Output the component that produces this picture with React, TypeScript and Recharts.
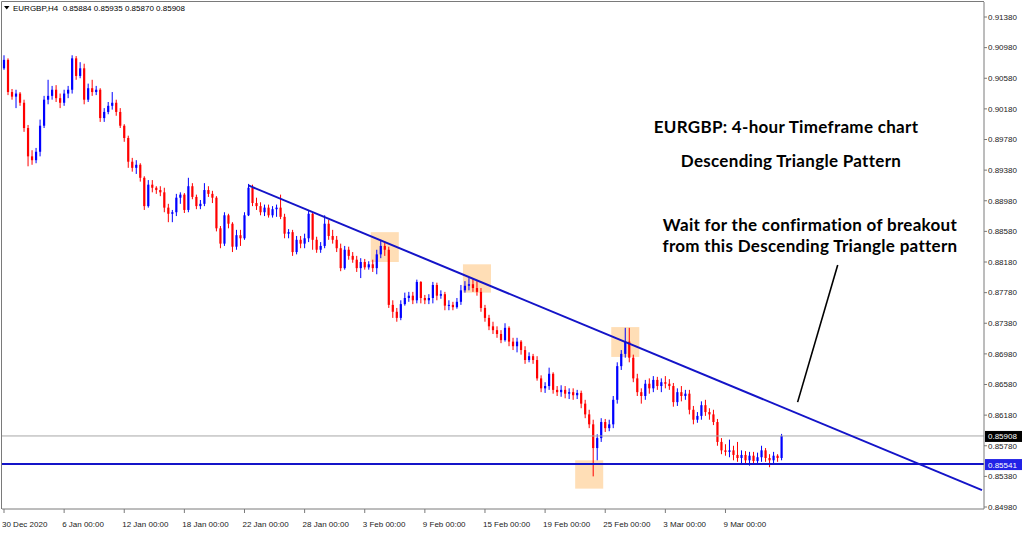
import React from "react";
import { ComposedChart, Bar, XAxis, YAxis, ReferenceLine, ReferenceArea } from "recharts";

// EURGBP H4, 30 Dec 2020 -> 10 Mar 2021 (one candle per 4px slot)
const opens = [
  0.9071, 0.9082, 0.904, 0.9034, 0.9038, 0.9026, 0.8993, 0.8956, 0.8951, 0.8962,
  0.8996, 0.903, 0.9035, 0.9043, 0.9032, 0.9026, 0.9038, 0.9043, 0.9084, 0.9061,
  0.9071, 0.903, 0.9045, 0.904, 0.9043, 0.9006, 0.9014, 0.9022, 0.9026, 0.9014,
  0.8996, 0.898, 0.8949, 0.8941, 0.8945, 0.8928, 0.8891, 0.8919, 0.8915, 0.8912,
  0.8909, 0.8889, 0.8881, 0.8883, 0.8902, 0.8906, 0.8886, 0.8917, 0.8903, 0.8891,
  0.8894, 0.8912, 0.8907, 0.8902, 0.8862, 0.8842, 0.8879, 0.8868, 0.8838, 0.8853,
  0.8849, 0.8879, 0.8915, 0.8895, 0.8891, 0.8883, 0.8889, 0.8879, 0.8887, 0.8889,
  0.8877, 0.8855, 0.8857, 0.8831, 0.8847, 0.8842, 0.8849, 0.8881, 0.8847, 0.8834,
  0.8839, 0.8868, 0.8852, 0.8847, 0.8836, 0.881, 0.8834, 0.8826, 0.8821, 0.881,
  0.8818, 0.8811, 0.8815, 0.881, 0.8828, 0.8839, 0.8834, 0.8762, 0.8753, 0.8745,
  0.8763, 0.8771, 0.8774, 0.8768, 0.8792, 0.8771, 0.8768, 0.8771, 0.8788, 0.8774,
  0.8776, 0.8761, 0.8762, 0.8759, 0.8766, 0.8781, 0.8787, 0.8789, 0.8784, 0.8779,
  0.8758, 0.8745, 0.8734, 0.8729, 0.8724, 0.8716, 0.8732, 0.8714, 0.8708, 0.8714,
  0.8703, 0.869, 0.8695, 0.869, 0.8666, 0.8653, 0.8656, 0.8672, 0.8651, 0.8648,
  0.8651, 0.8646, 0.8648, 0.8644, 0.8647, 0.8633, 0.8619, 0.8606, 0.8575, 0.8588,
  0.8609, 0.8601, 0.8606, 0.8638, 0.8682, 0.8698, 0.8714, 0.8693, 0.8666, 0.8648,
  0.8643, 0.8659, 0.8653, 0.8664, 0.8656, 0.8661, 0.8659, 0.8656, 0.8635, 0.8648,
  0.8643, 0.8646, 0.8625, 0.8612, 0.8617, 0.8631, 0.8622, 0.8619, 0.8609, 0.8583,
  0.8572, 0.857, 0.8572, 0.8566, 0.8562, 0.8566, 0.8559, 0.8565, 0.8558, 0.8563,
  0.8572, 0.8562, 0.8559, 0.8565, 0.8562,
];

const highs = [
  0.9088, 0.9084, 0.9044, 0.9043, 0.904, 0.903, 0.8997, 0.8964, 0.8967, 0.9004,
  0.9035, 0.9056, 0.9048, 0.9049, 0.9038, 0.9043, 0.9048, 0.9088, 0.9087, 0.9079,
  0.9077, 0.9051, 0.9056, 0.9048, 0.9045, 0.9019, 0.9027, 0.904, 0.903, 0.9019,
  0.8998, 0.8983, 0.8954, 0.8951, 0.8947, 0.893, 0.8925, 0.8925, 0.8917, 0.8917,
  0.8915, 0.8894, 0.8886, 0.8907, 0.8909, 0.8908, 0.8928, 0.8921, 0.8906, 0.8899,
  0.8921, 0.8917, 0.8911, 0.8904, 0.8865, 0.8883, 0.8881, 0.887, 0.886, 0.886,
  0.8883, 0.892, 0.8919, 0.8902, 0.8896, 0.8893, 0.8893, 0.8891, 0.8893, 0.8906,
  0.8881, 0.8861, 0.886, 0.8852, 0.8852, 0.8855, 0.8885, 0.8883, 0.8851, 0.8844,
  0.8879, 0.8873, 0.886, 0.8852, 0.8842, 0.8839, 0.8838, 0.8831, 0.8826, 0.8823,
  0.8822, 0.8819, 0.8821, 0.8834, 0.8847, 0.8845, 0.8838, 0.8768, 0.8758, 0.8768,
  0.8778, 0.8779, 0.8779, 0.8795, 0.8793, 0.8775, 0.8776, 0.8792, 0.8791, 0.8781,
  0.8779, 0.8768, 0.8766, 0.8771, 0.8788, 0.8793, 0.8797, 0.8796, 0.8793, 0.8784,
  0.8762, 0.8749, 0.874, 0.8734, 0.8729, 0.8738, 0.8734, 0.8719, 0.8719, 0.8716,
  0.8708, 0.87, 0.8698, 0.8695, 0.867, 0.8661, 0.868, 0.8674, 0.8656, 0.8657,
  0.8656, 0.8653, 0.8653, 0.8651, 0.865, 0.8638, 0.8625, 0.8612, 0.8593, 0.8614,
  0.8613, 0.8612, 0.8643, 0.8687, 0.8703, 0.8732, 0.8732, 0.8697, 0.8672, 0.8653,
  0.8664, 0.8666, 0.8669, 0.8668, 0.8666, 0.8669, 0.8665, 0.866, 0.8653, 0.8656,
  0.8651, 0.8651, 0.863, 0.8622, 0.8636, 0.8638, 0.8627, 0.8625, 0.8613, 0.8588,
  0.858, 0.8586, 0.8578, 0.8583, 0.8572, 0.8571, 0.857, 0.857, 0.8569, 0.8578,
  0.8575, 0.8567, 0.857, 0.8567, 0.85935,
];

const lows = [
  0.9069, 0.9036, 0.903, 0.9019, 0.9022, 0.8988, 0.8943, 0.8945, 0.8947, 0.8956,
  0.8993, 0.9024, 0.903, 0.9027, 0.9019, 0.9022, 0.9032, 0.9038, 0.9056, 0.9058,
  0.9024, 0.9027, 0.9035, 0.9036, 0.9001, 0.9001, 0.9011, 0.9017, 0.9009, 0.8993,
  0.8975, 0.8941, 0.8936, 0.8933, 0.8923, 0.8886, 0.8889, 0.8909, 0.8907, 0.8904,
  0.8883, 0.887, 0.887, 0.8878, 0.8894, 0.8882, 0.8883, 0.89, 0.8887, 0.8887,
  0.8891, 0.8903, 0.8895, 0.8858, 0.8836, 0.8839, 0.8862, 0.8831, 0.8834, 0.8839,
  0.8847, 0.8878, 0.8891, 0.8886, 0.8879, 0.8878, 0.8876, 0.8876, 0.8877, 0.8874,
  0.8849, 0.8849, 0.8826, 0.8828, 0.8836, 0.8836, 0.8844, 0.8834, 0.883, 0.883,
  0.8836, 0.8847, 0.8842, 0.8831, 0.8806, 0.8808, 0.8821, 0.8817, 0.8805, 0.8797,
  0.8808, 0.8808, 0.8805, 0.8802, 0.8823, 0.8826, 0.8758, 0.8745, 0.874, 0.8742,
  0.8761, 0.8766, 0.8763, 0.8764, 0.8764, 0.8763, 0.8763, 0.8764, 0.8768, 0.877,
  0.8755, 0.8755, 0.8755, 0.8757, 0.8762, 0.8778, 0.8781, 0.8779, 0.8774, 0.8753,
  0.874, 0.8729, 0.8724, 0.8719, 0.8712, 0.8714, 0.8708, 0.8703, 0.87, 0.8697,
  0.8685, 0.8687, 0.8685, 0.8663, 0.8648, 0.8647, 0.8651, 0.8646, 0.8643, 0.8642,
  0.864, 0.8639, 0.8638, 0.8639, 0.8627, 0.8614, 0.8601, 0.8538, 0.8559, 0.8583,
  0.8596, 0.8597, 0.8601, 0.8633, 0.8677, 0.8693, 0.8687, 0.8661, 0.8643, 0.8633,
  0.8638, 0.8646, 0.8648, 0.8651, 0.8648, 0.8653, 0.8651, 0.8629, 0.863, 0.8636,
  0.8638, 0.8619, 0.8606, 0.8608, 0.8612, 0.8617, 0.8612, 0.8605, 0.8578, 0.8567,
  0.8565, 0.8563, 0.8559, 0.8557, 0.8553, 0.8554, 0.8552, 0.8553, 0.8554, 0.8557,
  0.8557, 0.855, 0.8555, 0.8557, 0.8559,
];

const closes = [
  0.9082, 0.904, 0.9034, 0.9038, 0.9026, 0.8993, 0.8956, 0.8951, 0.8962, 0.8996,
  0.903, 0.9035, 0.9043, 0.9032, 0.9026, 0.9038, 0.9043, 0.9084, 0.9061, 0.9071,
  0.903, 0.9045, 0.904, 0.9043, 0.9006, 0.9014, 0.9022, 0.9026, 0.9014, 0.8996,
  0.898, 0.8949, 0.8941, 0.8945, 0.8928, 0.8891, 0.8919, 0.8915, 0.8912, 0.8909,
  0.8889, 0.8881, 0.8883, 0.8902, 0.8906, 0.8886, 0.8917, 0.8903, 0.8891, 0.8894,
  0.8912, 0.8907, 0.8902, 0.8862, 0.8842, 0.8879, 0.8868, 0.8838, 0.8853, 0.8849,
  0.8879, 0.8915, 0.8895, 0.8891, 0.8883, 0.8889, 0.8879, 0.8887, 0.8889, 0.8877,
  0.8855, 0.8857, 0.8831, 0.8847, 0.8842, 0.8849, 0.8881, 0.8847, 0.8834, 0.8839,
  0.8868, 0.8852, 0.8847, 0.8836, 0.881, 0.8834, 0.8826, 0.8821, 0.881, 0.8818,
  0.8811, 0.8815, 0.881, 0.8828, 0.8839, 0.8834, 0.8762, 0.8753, 0.8745, 0.8763,
  0.8771, 0.8774, 0.8768, 0.8792, 0.8771, 0.8768, 0.8771, 0.8788, 0.8774, 0.8776,
  0.8761, 0.8762, 0.8759, 0.8766, 0.8781, 0.8787, 0.8789, 0.8784, 0.8779, 0.8758,
  0.8745, 0.8734, 0.8729, 0.8724, 0.8716, 0.8732, 0.8714, 0.8708, 0.8714, 0.8703,
  0.869, 0.8695, 0.869, 0.8666, 0.8653, 0.8656, 0.8672, 0.8651, 0.8648, 0.8651,
  0.8646, 0.8648, 0.8644, 0.8647, 0.8633, 0.8619, 0.8606, 0.8575, 0.8588, 0.8609,
  0.8601, 0.8606, 0.8638, 0.8682, 0.8698, 0.8714, 0.8693, 0.8666, 0.8648, 0.8643,
  0.8659, 0.8653, 0.8664, 0.8656, 0.8661, 0.8659, 0.8656, 0.8635, 0.8648, 0.8643,
  0.8646, 0.8625, 0.8612, 0.8617, 0.8631, 0.8622, 0.8619, 0.8609, 0.8583, 0.8572,
  0.857, 0.8572, 0.8566, 0.8562, 0.8566, 0.8559, 0.8565, 0.8558, 0.8563, 0.8572,
  0.8562, 0.8559, 0.8565, 0.8562, 0.85908,
];

// empty slots on the right of the last candle (MT4 chart shift)
const slotCount = 245;

const dateTicks = [0, 15, 30, 45, 60, 75, 90, 105, 120, 135, 150, 165, 180];
const dateLabels = [
  "30 Dec 2020", "6 Jan 00:00", "12 Jan 00:00", "18 Jan 00:00", "22 Jan 00:00",
  "28 Jan 00:00", "3 Feb 00:00", "9 Feb 00:00", "15 Feb 00:00", "19 Feb 00:00",
  "25 Feb 00:00", "3 Mar 00:00", "9 Mar 00:00",
];

const priceTicks = [
  0.9138, 0.9098, 0.9058, 0.9018, 0.8978, 0.8938, 0.8898, 0.8858, 0.8818,
  0.8778, 0.8738, 0.8698, 0.8658, 0.8618, 0.8578, 0.8538, 0.8498,
];

const lastPrice = 0.85908;
const supportLevel = 0.85541;
const trendFrom = { i: 61, price: 0.8918 };
const trendTo = { i: 244, price: 0.852 };
const pointerFrom = { i: 208, price: 0.8814 };
const pointerTo = { i: 198, price: 0.8635 };

const touchBoxes = [
  { from: 92, to: 98, hi: 0.8857, lo: 0.8818 },
  { from: 115, to: 121, hi: 0.8815, lo: 0.8778 },
  { from: 152, to: 158, hi: 0.8733, lo: 0.8694 },
  { from: 143, to: 149, hi: 0.8559, lo: 0.8522 },
];

const data = Array.from({ length: slotCount }, (_, i) =>
  i < closes.length
    ? { i, o: opens[i], h: highs[i], l: lows[i], c: closes[i], range: [lows[i], highs[i]] }
    : { i }
);

const BULL = "#0000ff";
const BEAR = "#ff0000";
const LINE_BLUE = "#1414c8";
const AXIS = "#7a7a7a";
const FONT = "'Liberation Sans', Arial, sans-serif";

function Candle(props: any) {
  const { x, y, width, height, payload } = props;
  if (!payload || payload.c == null || y == null) return null;
  const { o, h, l, c } = payload;
  const top = Math.min(y, y + height);
  const hh = Math.abs(height);
  const k = hh / (h - l || 1);
  const yO = top + (h - o) * k;
  const yC = top + (h - c) * k;
  const color = c >= o ? BULL : BEAR;
  const cx = x + width / 2;
  const bodyTop = Math.min(yO, yC);
  const bodyH = Math.max(1, Math.abs(yO - yC));
  return (
    <g>
      <line x1={cx} x2={cx} y1={top} y2={top + hh} stroke={color} strokeWidth={1} />
      <rect x={cx - 1.1} y={bodyTop} width={2.2} height={bodyH} fill={color} />
    </g>
  );
}

function DateTick(props: any) {
  const { x, y, payload } = props;
  const idx = dateTicks.indexOf(payload.value);
  return (
    <text x={x - 2} y={y + 12} fontSize={8} fontFamily={FONT} fill="#222" textAnchor="start">
      {idx >= 0 ? dateLabels[idx] : ""}
    </text>
  );
}

function PriceTag(props: any) {
  const { viewBox, text, bg } = props;
  if (!viewBox) return null;
  const { x, y, width } = viewBox;
  return (
    <g>
      <rect x={x + width + 1} y={y - 5} width={37} height={11} fill={bg} />
      <text x={x + width + 4} y={y + 3.5} fontSize={8} fontFamily={FONT} fill="#fff">
        {text}
      </text>
    </g>
  );
}

export default function App() {
  return (
    <div style={{ position: "absolute", left: 0, top: 0, width: 1024, height: 534, background: "#fff" }}>
      <ComposedChart
        width={1024}
        height={534}
        data={data}
        margin={{ top: 2, right: 0, bottom: 0, left: 2 }}
        barCategoryGap={0}
        barGap={0}
      >
        <XAxis
          dataKey="i"
          type="category"
          ticks={dateTicks}
          interval={0}
          height={25}
          tickSize={4}
          tickMargin={2}
          stroke={AXIS}
          tick={(p: any) => <DateTick {...p} />}
        />
        <YAxis
          orientation="right"
          width={40}
          domain={[0.84954, 0.91576]}
          allowDataOverflow
          ticks={priceTicks}
          interval={0}
          tickSize={3}
          tickMargin={1}
          stroke={AXIS}
          tickFormatter={(v: number) => v.toFixed(5)}
          tick={{ fontSize: 8, fontFamily: FONT, fill: "#222" }}
        />
        {touchBoxes.map((b, k) => (
          <ReferenceArea
            key={k}
            x1={b.from}
            x2={b.to}
            y1={b.lo}
            y2={b.hi}
            fill="#ffc27a"
            fillOpacity={0.55}
            stroke="none"
            ifOverflow="visible"
          />
        ))}
        <ReferenceLine
          y={lastPrice}
          stroke="#a8a8a8"
          strokeWidth={1}
          label={(p: any) => <PriceTag {...p} text="0.85908" bg="#000" />}
        />
        <Bar dataKey="range" isAnimationActive={false} shape={(p: any) => <Candle {...p} />} />
        <ReferenceLine
          y={supportLevel}
          stroke={LINE_BLUE}
          strokeWidth={2}
          label={(p: any) => <PriceTag {...p} text="0.85541" bg="#2222e6" />}
        />
        <ReferenceLine
          segment={[
            { x: trendFrom.i, y: trendFrom.price },
            { x: trendTo.i, y: trendTo.price },
          ]}
          stroke={LINE_BLUE}
          strokeWidth={2}
          ifOverflow="visible"
        />
        <ReferenceLine
          segment={[
            { x: pointerFrom.i, y: pointerFrom.price },
            { x: pointerTo.i, y: pointerTo.price },
          ]}
          stroke="#000"
          strokeWidth={1.6}
          ifOverflow="visible"
        />
      </ComposedChart>
      <svg
        width={1024}
        height={534}
        style={{ position: "absolute", left: 0, top: 0, pointerEvents: "none" }}
      >
        <line x1={1.5} y1={1.5} x2={984} y2={1.5} stroke={AXIS} strokeWidth={1} />
        <line x1={1.5} y1={1.5} x2={1.5} y2={509} stroke={AXIS} strokeWidth={1} />
        <polygon points="4,6 9.5,6 6.75,9.5" fill="#000" />
        <text x={13} y={11} fontSize={8} fontFamily={FONT} fill="#000">
          {"EURGBP,H4\u00a0\u00a00.85884 0.85935 0.85870 0.85908"}
        </text>
        <g
          fontFamily="Lato, 'Open Sans', sans-serif"
          fontWeight={700}
          fontSize={17}
          letterSpacing={0.3}
          fill="#000"
          textAnchor="middle"
        >
          <text x={786} y={133}>EURGBP: 4-hour Timeframe chart</text>
          <text x={791} y={167}>Descending Triangle Pattern</text>
          <text x={810} y={231}>Wait for the confirmation of breakout</text>
          <text x={810} y={252}>from this Descending Triangle pattern</text>
        </g>
      </svg>
    </div>
  );
}
